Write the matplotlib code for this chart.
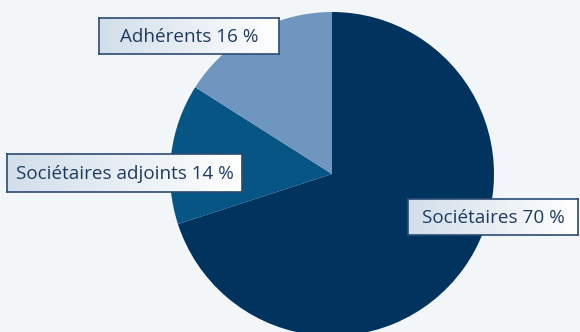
import numpy as np
import matplotlib
matplotlib.use("Agg")
import matplotlib.pyplot as plt

labels = ["Sociétaires", "Sociétaires adjoints", "Adhérents"]
values = [70, 14, 16]
colors = ["#00345f", "#065585", "#6f96be"]

W, H = 580, 332
bg = "#f3f6f9"

fig = plt.figure(figsize=(W / 100, H / 100), dpi=100, facecolor=bg)
ax = fig.add_axes([0, 0, 1, 1])
ax.set_xlim(0, W)
ax.set_ylim(0, H)
ax.set_aspect("equal")
ax.axis("off")
ax.set_facecolor(bg)

ax.pie(values, colors=colors, startangle=90, counterclock=False,
       center=(332, H - 174), radius=162, wedgeprops=dict(linewidth=0))
ax.set_xlim(0, W)
ax.set_ylim(0, H)

# label boxes (left, top, right, bottom in pixels)
boxes = [(408, 199, 578, 235), (7, 154, 242, 192), (99, 18, 279, 54)]

grad = np.linspace(0, 1, 256).reshape(1, -1)
cmap = matplotlib.colors.LinearSegmentedColormap.from_list("g", ["#d2deea", "#ffffff"])

for lab, val, (l, t, r, b) in zip(labels, values, boxes):
    bax = fig.add_axes([l / W, 1 - b / H, (r - l) / W, (b - t) / H])
    bax.imshow(grad, aspect="auto", cmap=cmap, extent=(0, 1, 0, 1))
    bax.set_xticks([])
    bax.set_yticks([])
    for s in bax.spines.values():
        s.set_color("#2b4b72")
        s.set_linewidth(1.2)
    bax.text(0.5, 0.47, f"{lab} {val} %", ha="center", va="center",
             fontsize=13.6, family="Open Sans", color="#1f3b60",
             transform=bax.transAxes)

fig.savefig("out.png", dpi=100, facecolor=bg)
